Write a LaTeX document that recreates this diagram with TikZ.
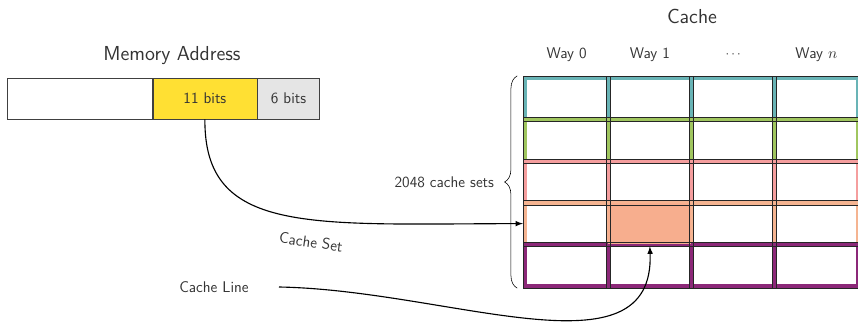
\documentclass[tikz,border=0pt]{standalone}
\usetikzlibrary{positioning,decorations.pathreplacing}
\renewcommand{\familydefault}{\sfdefault}

\definecolor{tealrow}{RGB}{105,180,182}
\definecolor{greenrow}{RGB}{160,198,95}
\definecolor{pinkrow}{RGB}{245,158,158}
\definecolor{peachrow}{RGB}{245,180,145}
\definecolor{purplerow}{RGB}{140,40,120}
\definecolor{indexfill}{RGB}{255,224,51}
\definecolor{hitfill}{RGB}{247,174,142}

\begin{document}
\begin{tikzpicture}[x=0.025cm,y=-0.025cm,font=\fontsize{11}{13}\selectfont\sffamily,
  text=black!80,
  field/.style={draw=black!75,minimum height=1.025cm,inner sep=0pt,anchor=west},
  title/.style={font=\fontsize{14.4}{17}\selectfont\sffamily},
  way/.style={minimum width=2.08cm,minimum height=1.04cm,inner sep=0pt},
  waybox/.style={way,draw=#1,line width=3pt}]
\useasboundingbox (0,0) rectangle (858,325);

% memory address
\node[field,minimum width=3.625cm] (tag) at (7,98.5) {};
\node[field,fill=indexfill,minimum width=2.6cm,right=0pt of tag] (index) {11 bits};
\node[field,fill=black!10,minimum width=1.55cm,right=0pt of index] (offset) {6 bits};
\node[title] (memtitle) at (172,56) {Memory Address};

% cache
\node[title] (cachetitle) at (692,16) {Cache};
\foreach \r/\col in {0/tealrow,1/greenrow,2/pinkrow,3/peachrow,4/purplerow}
  \foreach \c in {0,...,3}
    \node[waybox=\col] (c\r\c) at (566.6+83.25*\c,98.8+41.6*\r) {};
\node[way,fill=hitfill] at (c31) {};
\foreach \r in {0,...,4}
  \foreach \c in {0,...,3}
    \draw[black!85,line width=0.5pt] (c\r\c.north west) rectangle (c\r\c.south east);

\node (way0) at (566.6,55) {Way 0};
\node (way1) at (649.9,55) {Way 1};
\node (waydots) at (733.1,55) {\small$\cdots$};
\node (wayn) at (816.4,55) {Way $n$};

% sets
\coordinate[left=4pt of c40.south west] (bracebot);
\coordinate[left=4pt of c00.north west] (bracetop);
\draw[decorate,decoration={brace,amplitude=9pt}] (bracebot) -- (bracetop)
  node[midway,left=13pt] (setslabel) {2048 cache sets};

% lookups
\draw[>=latex,->,thick] (index.south) .. controls (204,235) and (310,224) .. (c30.west);
\node[rotate=-8] (setlabel) at (311,242) {Cache Set};
\node (linelabel) at (214,287) {Cache Line};
\coordinate[right=18pt of linelabel] (linestart);
\draw[>=latex,->,thick] (linestart) .. controls (450,290) and (655,380) .. (c31.south);
\end{tikzpicture}
\end{document}
